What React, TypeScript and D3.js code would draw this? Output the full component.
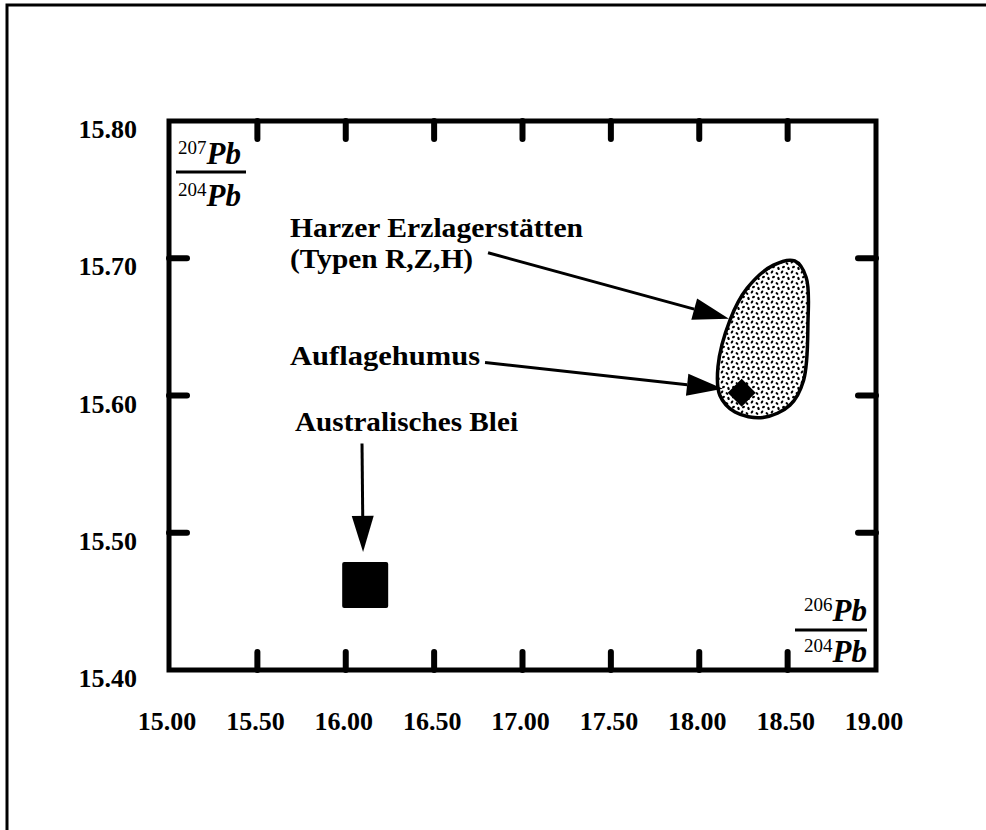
import * as d3 from "d3";
import React from "react";

// axis ticks
const xTicks = [15.0, 15.5, 16.0, 16.5, 17.0, 17.5, 18.0, 18.5, 19.0];
const yTicks = [15.4, 15.5, 15.6, 15.7, 15.8];

// outline of the Harz ore field (206/204, 207/204)
const harzField: [number, number][] = [
  [18.42, 15.695],
  [18.54, 15.698],
  [18.605, 15.686],
  [18.615, 15.653],
  [18.59, 15.611],
  [18.513, 15.593],
  [18.361, 15.584],
  [18.202, 15.588],
  [18.117, 15.6],
  [18.106, 15.621],
  [18.174, 15.655],
  [18.27, 15.678],
];

// single samples
const australianLead = { x: 16.11, y: 15.462 };
const humus = { x: 18.24, y: 15.602 };

// annotations: text lines and arrows (data units)
const labels = [
  { text: "Harzer Erzlagerstätten", x: 15.685, y: 15.7155, len: 293 },
  { text: "(Typen R,Z,H)", x: 15.685, y: 15.693, len: 183 },
  { text: "Auflagehumus", x: 15.685, y: 15.622, len: 190 },
  { text: "Australisches Blei", x: 15.713, y: 15.574, len: 223 },
];
const arrows = [
  { x1: 16.805, y1: 15.704, x2: 18.168, y2: 15.656 },
  { x1: 16.788, y1: 15.624, x2: 18.134, y2: 15.605 },
  { x1: 16.092, y1: 15.565, x2: 16.098, y2: 15.486 },
];

const W = 986;
const H = 830;
const left = 169, right = 876, top = 121, bottom = 670;
const font = "'Liberation Serif', 'DejaVu Serif', serif";

export default function App() {
  const x = d3.scaleLinear().domain([15, 19]).range([left, right]);
  const y = d3.scaleLinear().domain([15.4, 15.8]).range([bottom, top]);

  const blob = d3
    .line<[number, number]>()
    .x((d) => x(d[0]))
    .y((d) => y(d[1]))
    .curve(d3.curveCatmullRomClosed.alpha(0.5))(harzField);

  const sq = 46;
  const dia = 14;

  const arrowHead = (a: typeof arrows[0]) => {
    const x1 = x(a.x1), y1 = y(a.y1), x2 = x(a.x2), y2 = y(a.y2);
    const ang = Math.atan2(y2 - y1, x2 - x1);
    const L = 36, hw = 11;
    const bx = x2 - L * Math.cos(ang), by = y2 - L * Math.sin(ang);
    const px = -Math.sin(ang) * hw, py = Math.cos(ang) * hw;
    return {
      line: `M${x1},${y1}L${bx},${by}`,
      head: `M${x2},${y2}L${bx + px},${by + py}L${bx - px},${by - py}Z`,
    };
  };

  const innerX = xTicks.slice(1, -1);
  const innerY = yTicks.slice(1, -1);
  const tl = 18;

  const iso = (n: string, px: number, py: number, anchor: string) => (
    <text x={px} y={py} textAnchor={anchor}>
      <tspan fontSize={19} fontWeight="normal" dy={-10}>{n}</tspan>
      <tspan fontSize={31} fontWeight="bold" fontStyle="italic" dy={10}>Pb</tspan>
    </text>
  );

  return (
    <svg
      width={W}
      height={H}
      style={{ position: "absolute", left: 0, top: 0, background: "#fff" }}
      fontFamily={font}
    >
      <defs>
        <pattern id="stipple" width="10" height="10" patternUnits="userSpaceOnUse">
          <rect width="10" height="10" fill="#fff" />
          <ellipse cx="2" cy="2" rx="1.7" ry="1.1" transform="rotate(-60 2 2)" fill="#000" />
          <ellipse cx="7" cy="3.5" rx="1.6" ry="1.1" transform="rotate(40 7 3.5)" fill="#000" />
          <ellipse cx="3.5" cy="7" rx="1.6" ry="1.1" transform="rotate(-30 3.5 7)" fill="#000" />
          <ellipse cx="8.5" cy="8.5" rx="1.7" ry="1.1" transform="rotate(70 8.5 8.5)" fill="#000" />
        </pattern>
      </defs>

      {/* page frame */}
      <path d={`M7,${H}V5H${W}`} fill="none" stroke="#000" strokeWidth={3} />

      {/* plot box */}
      <rect x={left} y={top} width={right - left} height={bottom - top} fill="none" stroke="#000" strokeWidth={5} />

      {/* inward ticks */}
      <g stroke="#000" strokeWidth={6} strokeLinecap="round">
        {innerX.map((t) => (
          <g key={"x" + t}>
            <line x1={x(t)} x2={x(t)} y1={top} y2={top + tl} />
            <line x1={x(t)} x2={x(t)} y1={bottom} y2={bottom - tl} />
          </g>
        ))}
        {innerY.map((t) => (
          <g key={"y" + t}>
            <line x1={left} x2={left + tl} y1={y(t)} y2={y(t)} />
            <line x1={right} x2={right - tl} y1={y(t)} y2={y(t)} />
          </g>
        ))}
      </g>

      {/* tick labels */}
      <g fontWeight="bold" fontSize={26}>
        {xTicks.map((t) => (
          <text key={"xl" + t} x={x(t) - 2} y={730} textAnchor="middle">
            {t.toFixed(2)}
          </text>
        ))}
        {yTicks.map((t) => (
          <text key={"yl" + t} x={137} y={y(t) + 17} textAnchor="end">
            {t.toFixed(2)}
          </text>
        ))}
      </g>

      {/* axis titles as fractions */}
      <g>
        {iso("207", 178, 164, "start")}
        <line x1={176} x2={246} y1={172} y2={172} stroke="#000" strokeWidth={3} />
        {iso("204", 178, 206, "start")}

        {iso("206", 867, 621, "end")}
        <line x1={795} x2={867} y1={630} y2={630} stroke="#000" strokeWidth={3} />
        {iso("204", 867, 662, "end")}
      </g>

      {/* Harz ore field */}
      <path d={blob ?? ""} fill="url(#stipple)" stroke="#000" strokeWidth={3.5} />

      {/* humus sample */}
      <path
        d={`M${x(humus.x)},${y(humus.y) - dia}L${x(humus.x) + dia},${y(humus.y)}L${x(humus.x)},${y(humus.y) + dia}L${x(humus.x) - dia},${y(humus.y)}Z`}
        fill="#000"
      />

      {/* Australian lead */}
      <rect
        x={x(australianLead.x) - sq / 2}
        y={y(australianLead.y) - sq / 2}
        width={sq}
        height={sq}
        rx={2}
        fill="#000"
      />

      {/* arrows */}
      {arrows.map((a, i) => {
        const p = arrowHead(a);
        return (
          <g key={"a" + i}>
            <path d={p.line} stroke="#000" strokeWidth={3} fill="none" />
            <path d={p.head} fill="#000" />
          </g>
        );
      })}

      {/* annotation text */}
      <g fontWeight="bold" fontSize={27}>
        {labels.map((l) => (
          <text key={l.text} x={x(l.x)} y={y(l.y)} textLength={l.len} lengthAdjust="spacingAndGlyphs">
            {l.text}
          </text>
        ))}
      </g>
    </svg>
  );
}
